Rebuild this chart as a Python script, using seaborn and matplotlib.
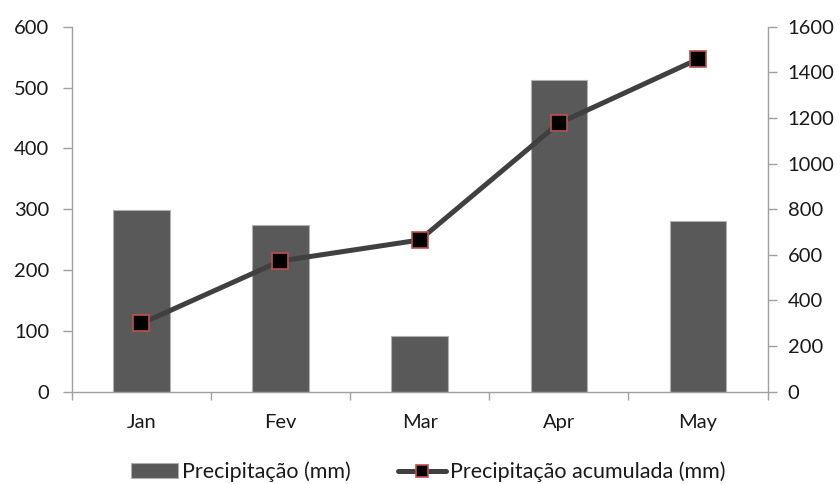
import numpy as np
import pandas as pd
import matplotlib
matplotlib.use("Agg")
import matplotlib.pyplot as plt
from matplotlib.patches import Patch
from matplotlib.lines import Line2D
from matplotlib.ticker import FixedLocator
import seaborn as sns

months = ["Jan", "Fev", "Mar", "Apr", "May"]
precip = [299, 274, 92, 512, 281]
precip_acum = [299, 573, 665, 1177, 1458]
bar_label = "Precipitação (mm)"
line_label = "Precipitação acumulada (mm)"
left_ticks = [0, 100, 200, 300, 400, 500, 600]
right_ticks = [0, 200, 400, 600, 800, 1000, 1200, 1400, 1600]

df = pd.DataFrame({"month": months, "precip": precip, "acum": precip_acum})

sns.set_style("white")
plt.rcParams["font.family"] = ["Lato", "DejaVu Sans"]

axis_gray = "#a0a0a0"
text_col = "#1a1a1a"
fs = 14.5

fig = plt.figure(figsize=(8.4, 4.84), dpi=100)
ax = fig.add_axes([0.0853, 0.1907, 0.8286, 0.7541])

sns.barplot(data=df, x="month", y="precip", ax=ax, color="#595959",
            saturation=1, width=0.407, edgecolor="#b0b0b0", linewidth=0.8)
ax2 = ax.twinx()
sns.pointplot(data=df, x="month", y="acum", ax=ax2, color="#404040",
              markers="s", linestyles="-", linewidth=3.6, markersize=12,
              markerfacecolor="black", markeredgecolor="#c0504d",
              markeredgewidth=1.2)

n = len(months)
ax.set_xlim(-0.5, n - 0.5)
ax.set_ylim(left_ticks[0], left_ticks[-1])
ax2.set_ylim(right_ticks[0], right_ticks[-1])
ax.set_yticks(left_ticks)
ax2.set_yticks(right_ticks)
ax.set_xticks(range(n))
ax.set_xticklabels(months)
ax.xaxis.set_minor_locator(FixedLocator(np.arange(-0.5, n, 1.0)))
ax.set_xlabel("")
ax.set_ylabel("")
ax2.set_ylabel("")
ax2.set_xlabel("")

for a in (ax, ax2):
    a.spines["top"].set_visible(False)
    for s in ("left", "right", "bottom"):
        a.spines[s].set_color(axis_gray)
        a.spines[s].set_linewidth(1.0)
    a.grid(False)
ax.spines["right"].set_visible(False)
ax2.spines["left"].set_visible(False)
ax2.spines["bottom"].set_visible(False)

ax.tick_params(axis="y", direction="out", length=6.3, width=1, color=axis_gray,
               labelsize=fs, labelcolor=text_col, pad=10, left=True)
ax2.tick_params(axis="y", direction="out", length=6.3, width=1, color=axis_gray,
                labelsize=fs, labelcolor=text_col, pad=8, right=True)
ax.tick_params(axis="x", which="major", length=0, labelsize=fs,
               labelcolor=text_col, pad=16)
ax.tick_params(axis="x", which="minor", direction="out", length=6, width=1,
               color=axis_gray, bottom=True)

handles = [
    Patch(facecolor="#595959", edgecolor="#b0b0b0", linewidth=0.8, label=bar_label),
    Line2D([0], [0], color="#404040", linewidth=3.6, marker="s", markersize=9,
           markerfacecolor="black", markeredgecolor="#c0504d",
           markeredgewidth=1.2, label=line_label),
]
fig.legend(handles=handles, loc="center", bbox_to_anchor=(0.5095, 0.025),
           ncol=2, frameon=False, fontsize=15.5, handlelength=2.2,
           handletextpad=0.2, columnspacing=2.2, labelcolor=text_col)

fig.savefig("out.png", dpi=100)
